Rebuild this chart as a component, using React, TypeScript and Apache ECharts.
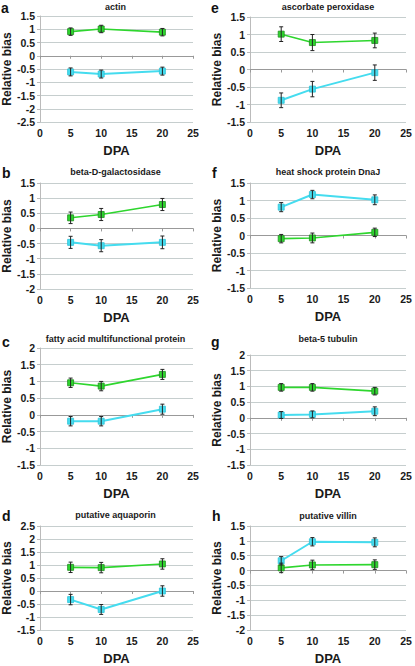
import React, { useEffect, useRef } from "react";
import * as echarts from "echarts";

const dpa = [5, 10, 20];
const letters = ["a", "b", "c", "d", "e", "f", "g", "h"];
const titles = [
  "actin",
  "beta-D-galactosidase",
  "fatty acid multifunctional protein",
  "putative aquaporin",
  "ascorbate peroxidase",
  "heat shock protein DnaJ",
  "beta-5 tubulin",
  "putative villin",
];
const yMin = [-2.5, -2, -1.5, -1.5, -1.5, -1.5, -1.5, -2];
const yMax = [1.5, 1.5, 2, 2.5, 1.5, 1.5, 2, 1.5];

const greenMean = [
  [0.91, 1.01, 0.89],
  [0.35, 0.46, 0.79],
  [0.96, 0.86, 1.21],
  [0.91, 0.9, 1.04],
  [1.01, 0.77, 0.83],
  [-0.09, -0.07, 0.09],
  [0.97, 0.97, 0.85],
  [0.09, 0.19, 0.2],
];
const greenErr = [
  [0.14, 0.14, 0.14],
  [0.19, 0.2, 0.2],
  [0.14, 0.14, 0.15],
  [0.2, 0.2, 0.2],
  [0.21, 0.23, 0.21],
  [0.12, 0.14, 0.12],
  [0.12, 0.12, 0.12],
  [0.16, 0.16, 0.16],
];
const cyanMean = [
  [-0.61, -0.69, -0.58],
  [-0.46, -0.57, -0.46],
  [-0.19, -0.19, 0.17],
  [-0.33, -0.71, 0.0],
  [-0.88, -0.56, -0.09],
  [0.81, 1.17, 1.02],
  [0.09, 0.11, 0.21],
  [0.33, 0.97, 0.95],
];
const cyanErr = [
  [0.15, 0.15, 0.15],
  [0.2, 0.2, 0.21],
  [0.14, 0.14, 0.15],
  [0.2, 0.19, 0.2],
  [0.21, 0.22, 0.22],
  [0.13, 0.12, 0.14],
  [0.11, 0.11, 0.14],
  [0.14, 0.14, 0.15],
];

// layout (pixels)
const gridBoxes = [
  { left: 38, top: 16, width: 155, height: 106 },
  { left: 38, top: 183, width: 155, height: 106 },
  { left: 38, top: 348, width: 155, height: 117 },
  { left: 38, top: 526, width: 155, height: 109 },
  { left: 250, top: 17, width: 156, height: 105 },
  { left: 250, top: 183, width: 156, height: 105 },
  { left: 250, top: 355, width: 156, height: 110 },
  { left: 250, top: 526, width: 156, height: 109 },
];
const titleY = [7, 172, 339, 515, 7, 172, 339, 516];
const letterPos = [
  [1, 8], [2, 173], [2, 342], [2, 516],
  [211, 8], [212, 173], [211, 342], [212, 516],
];

const FONT = "'Liberation Sans', Arial, sans-serif";
const GREEN = "#2ed62e";
const CYAN = "#45dcef";

export default function App() {
  const ref = useRef<HTMLDivElement>(null);
  useEffect(() => {
    if (!ref.current) return;
    const chart = echarts.init(ref.current, undefined, { renderer: "svg" });
    const grid: any[] = [];
    const xAxis: any[] = [];
    const yAxis: any[] = [];
    const series: any[] = [];
    const graphic: any[] = [];

    gridBoxes.forEach((g, i) => {
      const rightCol = i >= 4;
      grid.push({ ...g, containLabel: false });
      xAxis.push({
        type: "value",
        gridIndex: i,
        min: 0,
        max: 25,
        interval: 5,
        name: "DPA",
        nameLocation: "middle",
        nameGap: 22,
        nameTextStyle: { fontFamily: FONT, fontWeight: "bold", fontSize: 13, color: "#1a1a1a" },
        axisLine: { show: true, lineStyle: { color: "#999", width: 1 } },
        axisTick: { show: true, length: 3, lineStyle: { color: "#999" } },
        axisLabel: { fontFamily: FONT, fontWeight: "bold", fontSize: 10.5, color: "#1a1a1a", margin: 5 },
        splitLine: { show: false },
      });
      yAxis.push({
        type: "value",
        gridIndex: i,
        min: yMin[i],
        max: yMax[i],
        interval: 0.5,
        name: "Relative bias",
        nameLocation: "middle",
        nameGap: rightCol ? 24 : 27,
        nameTextStyle: { fontFamily: FONT, fontWeight: "bold", fontSize: 12, color: "#1a1a1a" },
        axisLine: { show: true, lineStyle: { color: "#bbbbbb", width: 1 } },
        axisTick: { show: true, length: 3, lineStyle: { color: "#bbbbbb" } },
        axisLabel: { fontFamily: FONT, fontWeight: "bold", fontSize: 10.5, color: "#1a1a1a", margin: 5 },
        splitLine: { show: true, lineStyle: { color: "#c6cece", width: 1 } },
      });

      const cyanData = dpa.map((x, k) => [x, cyanMean[i][k], cyanErr[i][k]]);
      const greenData = dpa.map((x, k) => [x, greenMean[i][k], greenErr[i][k]]);

      series.push({
        type: "line",
        xAxisIndex: i,
        yAxisIndex: i,
        data: cyanData.map((d) => [d[0], d[1]]),
        symbol: "rect",
        symbolSize: 6,
        lineStyle: { color: CYAN, width: 2 },
        itemStyle: { color: CYAN, borderColor: "#2fc3d8", borderWidth: 0.8 },
        z: 2,
      });
      series.push({
        type: "line",
        xAxisIndex: i,
        yAxisIndex: i,
        data: greenData.map((d) => [d[0], d[1]]),
        symbol: "rect",
        symbolSize: 6,
        lineStyle: { color: GREEN, width: 1.6 },
        itemStyle: { color: GREEN, borderColor: "#1f8f1f", borderWidth: 0.8 },
        z: 3,
      });
      [cyanData, greenData].forEach((dd) => {
        series.push({
          type: "custom",
          xAxisIndex: i,
          yAxisIndex: i,
          data: dd,
          encode: { x: 0, y: 1 },
          z: 5,
          renderItem: (params: any, api: any) => {
            const x = api.value(0);
            const y = api.value(1);
            const e = api.value(2);
            const t = api.coord([x, y + e]);
            const b = api.coord([x, y - e]);
            const w = 2;
            const st = { stroke: "#222", lineWidth: 1 };
            return {
              type: "group",
              children: [
                { type: "line", shape: { x1: t[0], y1: t[1], x2: b[0], y2: b[1] }, style: st },
                { type: "line", shape: { x1: t[0] - w, y1: t[1], x2: t[0] + w, y2: t[1] }, style: st },
                { type: "line", shape: { x1: b[0] - w, y1: b[1], x2: b[0] + w, y2: b[1] }, style: st },
              ],
            };
          },
        });
      });

      graphic.push({
        type: "text",
        x: g.left + g.width / 2,
        y: titleY[i],
        style: {
          text: titles[i],
          textAlign: "center",
          textVerticalAlign: "middle",
          font: `bold 9px ${FONT}`,
          fill: "#1a1a1a",
        },
      });
      graphic.push({
        type: "text",
        x: letterPos[i][0],
        y: letterPos[i][1],
        style: {
          text: letters[i],
          textAlign: "left",
          textVerticalAlign: "middle",
          font: `bold 14px ${FONT}`,
          fill: "#111",
        },
      });
    });

    chart.setOption({
      animation: false,
      backgroundColor: "#ffffff",
      grid,
      xAxis,
      yAxis,
      series,
      graphic,
    });
    return () => chart.dispose();
  }, []);
  return (
    <div
      ref={ref}
      style={{ position: "fixed", left: 0, top: 0, width: 415, height: 666, background: "#fff" }}
    />
  );
}
